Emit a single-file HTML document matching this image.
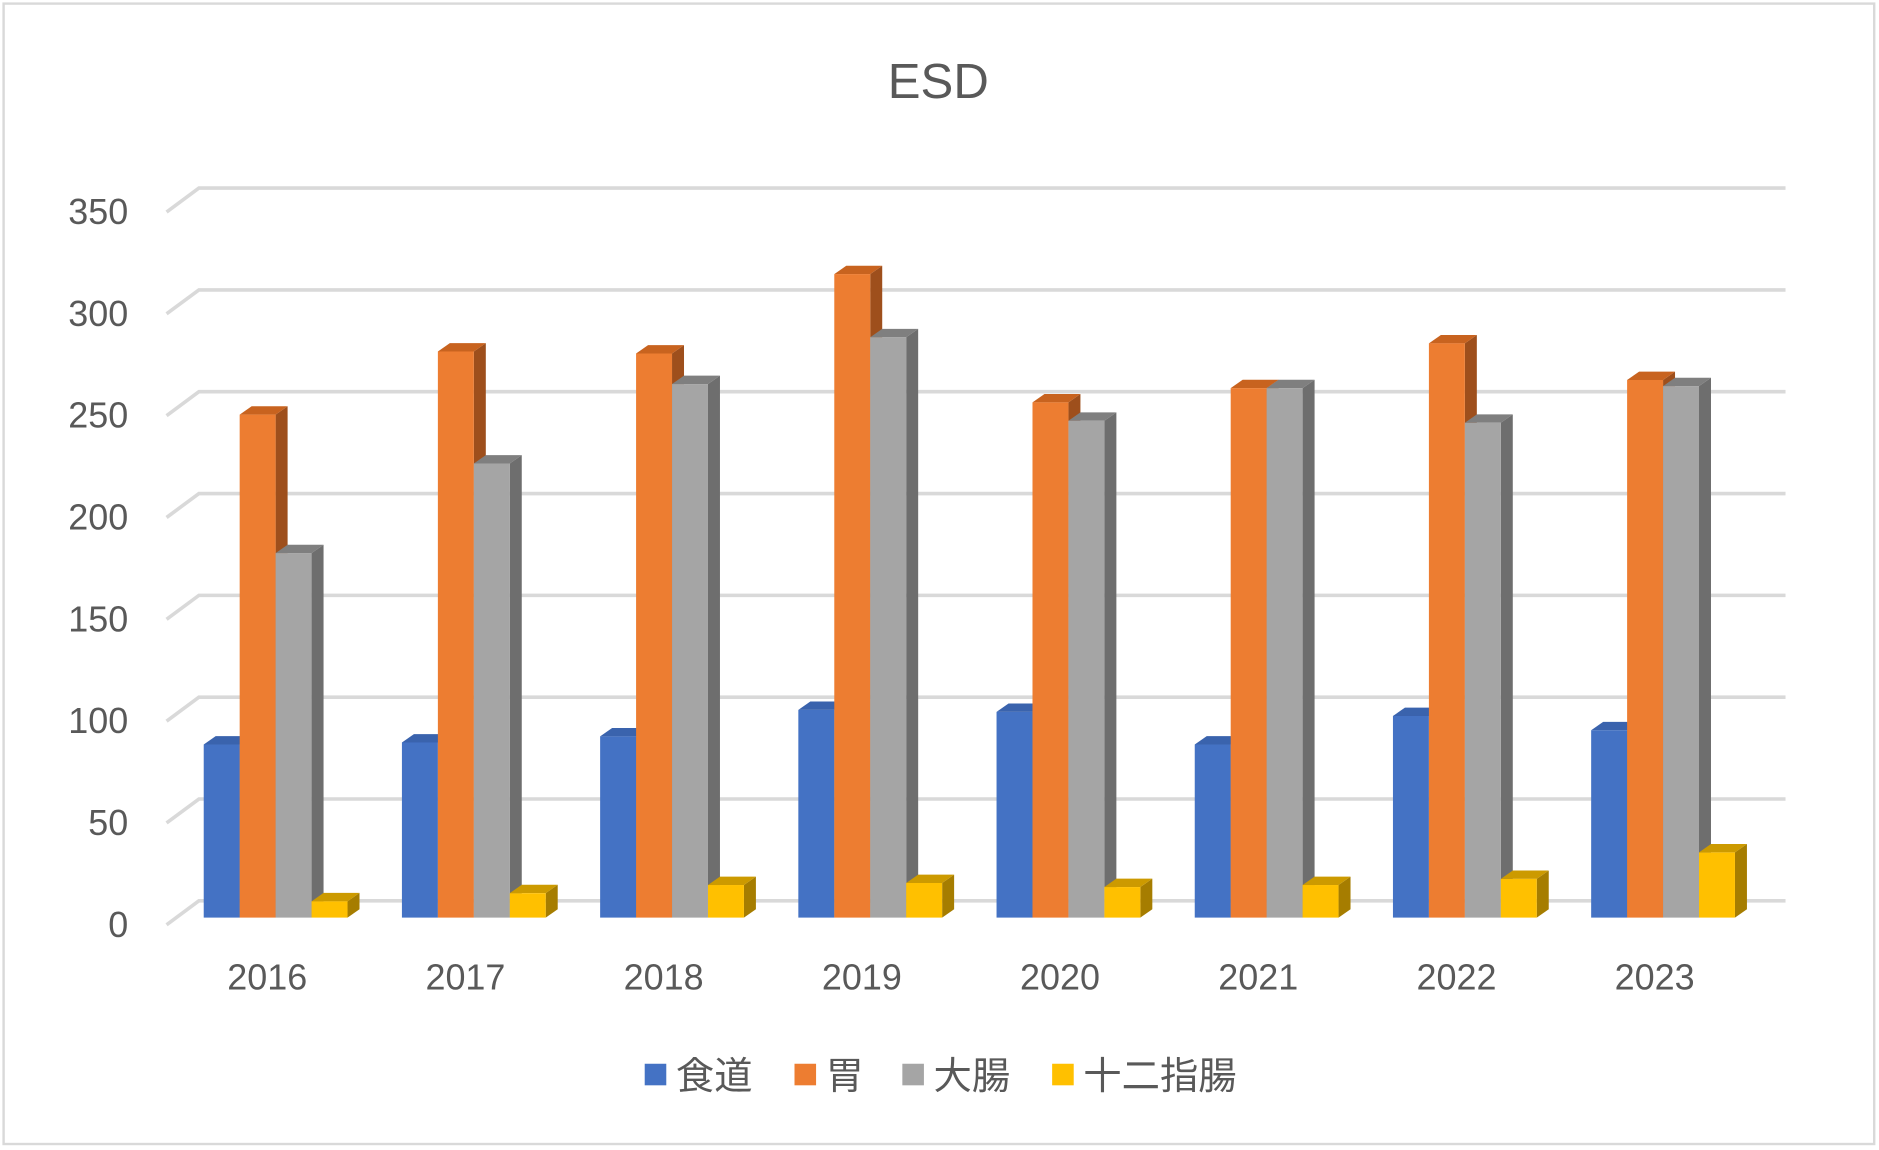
<!DOCTYPE html>
<html><head><meta charset="utf-8"><style>html,body{margin:0;padding:0;background:#fff}svg{display:block}</style></head>
<body>
<svg width="1879" height="1150" viewBox="0 0 1568 960" preserveAspectRatio="none" xmlns="http://www.w3.org/2000/svg" font-family="'Liberation Sans','Noto Sans CJK JP',sans-serif">
<rect x="3" y="3" width="1561" height="952" fill="#fff" stroke="#d9d9d9" stroke-width="2"/>
<text x="783" y="82" text-anchor="middle" font-size="41" fill="#595959">ESD</text>
<g stroke="#d9d9d9" stroke-width="3" fill="none" id="grid"></g>
<g font-size="30" fill="#595959" text-anchor="end" id="ylab"></g>
<g id="bars"></g>
<g font-size="30" fill="#595959" text-anchor="middle" id="xlab"></g>
<g font-size="32" fill="#595959">
<rect x="538" y="888" width="18" height="18" fill="#4472c4"/><text x="564" y="909">食道</text>
<rect x="663" y="888" width="18" height="18" fill="#ed7d31"/><text x="689" y="909">胃</text>
<rect x="753" y="888" width="18" height="18" fill="#a5a5a5"/><text x="779" y="909">大腸</text>
<rect x="878" y="888" width="18" height="18" fill="#ffc000"/><text x="904" y="909">十二指腸</text>
</g>
<script>
var ns="http://www.w3.org/2000/svg";
function el(p,t,a,txt){var e=document.createElementNS(ns,t);for(var k in a)e.setAttribute(k,a[k]);if(txt!=null)e.textContent=txt;document.getElementById(p).appendChild(e);}
for(var i=0;i<=7;i++){var yb=752-85*i,yf=yb+20;
el("grid","polyline",{points:"139,"+yf+" 166,"+yb+" 1490,"+yb});
el("ylab","text",{x:107,y:yf+10},String(50*i));}
var d=[[85,247,179,8],[86,278,223,12],[89,277,262,16],[102,316,285,17],[101,253,244,15],[85,260,260,16],[99,282,243,19],[92,264,261,32]];
var cf=["#4472c4","#ed7d31","#a5a5a5","#ffc000"],cs=["#2f5597","#9e4f1c","#6e6e6e","#a67d00"],ct=["#3a63ad","#c8631f","#7f7f7f","#cc9a00"];
var base=766;
for(var g=0;g<8;g++){var x0=170+g*165.4;
for(var s=0;s<4;s++){var x=x0+s*30,h=d[g][s]*1.7,y=base-h;
el("bars","polygon",{points:(x+30)+","+y+" "+(x+40)+","+(y-7)+" "+(x+40)+","+(base-7)+" "+(x+30)+","+base,fill:cs[s]});
el("bars","polygon",{points:x+","+y+" "+(x+10)+","+(y-7)+" "+(x+40)+","+(y-7)+" "+(x+30)+","+y,fill:ct[s]});
el("bars","rect",{x:x,y:y,width:30,height:h,fill:cf[s]});}
el("xlab","text",{x:x0+53,y:826},String(2016+g));}
</script>
</svg>
</body></html>
